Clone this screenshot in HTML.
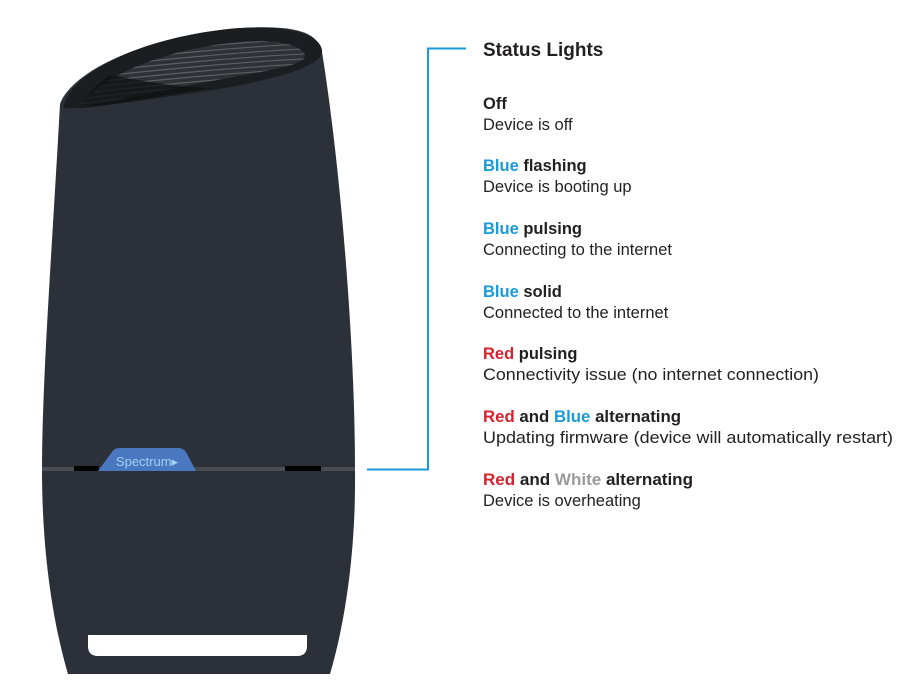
<!DOCTYPE html>
<html><head><meta charset="utf-8"><style>
html,body{margin:0;padding:0;background:#fff;}
svg{display:block}
text{font-family:"Liberation Sans",sans-serif;}
.h{font-size:16.5px;font-weight:bold;fill:#231f20}
.d{font-size:16.5px;fill:#231f20}
.b{fill:#1a9ad6}.r{fill:#d3232e}.w{fill:#9a9a9a}
</style></head><body>
<svg width="915" height="691" viewBox="0 0 915 691" xmlns="http://www.w3.org/2000/svg">
<defs>
<clipPath id="g"><path d="M80,108 C90,85 150,50 240,42 C285,38 305,48 305,56 C305,66 260,72 190,85 C140,95 100,104 80,108 Z"/></clipPath>
</defs>
<!-- body -->
<path d="M60,104 C52,250 42,380 42,470 C42,560 55,630 68,674 L330,674 C343,630 356,560 355,470 C355,330 338,150 322,52 C318,30 290,25 240,28 C150,35 72,70 60,104 Z" fill="#2c3139"/>
<!-- rim -->
<path d="M63,108 C70,70 150,35 240,28 C290,25 320,35 322,50 C325,70 250,85 180,95 C130,102 80,110 63,108 Z" fill="#1b1e21"/>
<path d="M80,108 C90,85 150,50 240,42 C285,38 305,48 305,56 C305,66 260,72 190,85 C140,95 100,104 80,108 Z" fill="#2e3236"/>
<g clip-path="url(#g)" stroke="#5c6066" stroke-width="1.2" fill="none">
<path d="M70,50 C150,40 260,30 330,28"/><path d="M70,55 C150,45 260,35 330,33"/><path d="M70,60 C150,50 260,40 330,38"/><path d="M70,65 C150,55 260,45 330,43"/><path d="M70,70 C150,60 260,50 330,48"/><path d="M70,75 C150,65 260,55 330,53"/><path d="M70,80 C150,70 260,60 330,58"/><path d="M70,85 C150,75 260,65 330,63"/><path d="M70,90 C150,80 260,70 330,68"/><path d="M70,95 C150,85 260,75 330,73"/><path d="M70,100 C150,90 260,80 330,78"/><path d="M70,105 C150,95 260,85 330,83"/><path d="M70,110 C150,100 260,90 330,88"/>
</g>
<path d="M80,108 C88,92 100,82 110,75 C140,80 170,87 210,88 C160,96 120,104 80,108 Z" fill="#0f1012" opacity="0.75"/>
<!-- separator -->
<rect x="42" y="467" width="313" height="4" fill="#4a4d52"/>
<rect x="74" y="466" width="25" height="5" fill="#000"/>
<rect x="285" y="466" width="36" height="5" fill="#000"/>
<path d="M98,471 L112,452 Q114,448 120,448 L178,448 Q183,448 186,452 L196,471 Z" fill="#4a78c0"/>
<text x="147" y="466" text-anchor="middle" style="font-size:13px;fill:#9fd2f5">Spectrum▸</text>
<!-- slot -->
<path d="M88,635 L307,635 L307,646 Q307,656 297,656 L98,656 Q88,656 88,646 Z" fill="#fff"/>
<!-- connector -->
<polyline points="367,469.5 428,469.5 428,48.5 466,48.5" fill="none" stroke="#1a9ad6" stroke-width="2"/>
<!-- text -->
<text x="483" y="56" style="font-size:19px;font-weight:bold;fill:#231f20">Status Lights</text>
<text x="483" y="109" class="h">Off</text>
<text x="483" y="130" class="d">Device is off</text>
<text x="483" y="171" class="h"><tspan class="b">Blue</tspan> flashing</text>
<text x="483" y="192" class="d">Device is booting up</text>
<text x="483" y="234" class="h"><tspan class="b">Blue</tspan> pulsing</text>
<text x="483" y="255" class="d">Connecting to the internet</text>
<text x="483" y="297" class="h"><tspan class="b">Blue</tspan> solid</text>
<text x="483" y="318" class="d">Connected to the internet</text>
<text x="483" y="359" class="h"><tspan class="r">Red</tspan> pulsing</text>
<text x="483" y="380" class="d" textLength="336" lengthAdjust="spacingAndGlyphs">Connectivity issue (no internet connection)</text>
<text x="483" y="422" class="h" textLength="198" lengthAdjust="spacingAndGlyphs"><tspan class="r">Red</tspan> and <tspan class="b">Blue</tspan> alternating</text>
<text x="483" y="443" class="d" textLength="410" lengthAdjust="spacingAndGlyphs">Updating firmware (device will automatically restart)</text>
<text x="483" y="485" class="h" textLength="210" lengthAdjust="spacingAndGlyphs"><tspan class="r">Red</tspan> and <tspan class="w">White</tspan> alternating</text>
<text x="483" y="506" class="d">Device is overheating</text>
</svg>
</body></html>
